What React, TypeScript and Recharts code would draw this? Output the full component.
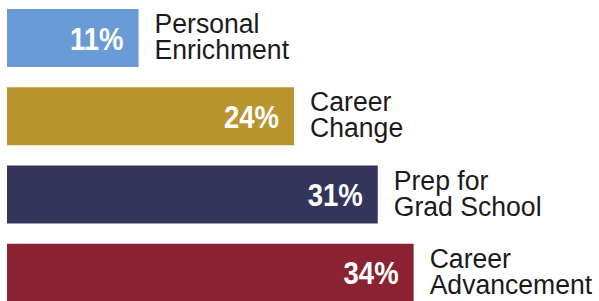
import React from "react";
import { BarChart, Bar, XAxis, YAxis, Cell, LabelList } from "recharts";

const categories = ["Personal\nEnrichment", "Career\nChange", "Prep for\nGrad School", "Career\nAdvancement"];
const percents = [11, 24, 31, 34];
const colors = ["#6b9bd6", "#b8952f", "#33355a", "#8a2232"];

const data = categories.map((c, i) => ({ name: c, value: percents[i] }));

const PctLabel = (props: any) => {
  const { x, y, width, height, value } = props;
  const tx = x + width - 15;
  const ty = y + height / 2 + 11.5;
  return (
    <text
      transform={`translate(${tx}, ${ty}) scale(0.86, 1)`}
      x={0}
      y={0}
      textAnchor="end"
      fill="#ffffff"
      fontFamily="'Liberation Sans', Arial, sans-serif"
      fontWeight="bold"
      fontSize={32}
    >
      {value}%
    </text>
  );
};

const CatLabel = (props: any) => {
  const { x, y, width, height, index } = props;
  const lines = categories[index].split("\n");
  const cy = y + height / 2;
  const tx = x + width + 16;
  return (
    <text
      transform={`translate(${tx}, ${cy}) scale(0.95, 1)`}
      x={0}
      y={-5}
      fill="#1a1a1a"
      fontFamily="'Liberation Sans', Arial, sans-serif"
      fontSize={28}
    >
      <tspan x={0} y={-5}>{lines[0]}</tspan>
      <tspan x={0} y={21}>{lines[1]}</tspan>
    </text>
  );
};

export default function App() {
  return (
    <div style={{ position: "absolute", left: 0, top: -1, width: 605, height: 313, background: "#fff" }}>
      <BarChart
        width={605}
        height={313}
        data={data}
        layout="vertical"
        margin={{ top: 0, right: 0, bottom: 0, left: 7 }}
      >
        <XAxis type="number" domain={[0, 50]} hide />
        <YAxis type="category" dataKey="name" hide />
        <Bar dataKey="value" barSize={58} isAnimationActive={false}>
          {data.map((d, i) => (
            <Cell key={i} fill={colors[i]} />
          ))}
          <LabelList dataKey="value" content={<PctLabel />} />
          <LabelList dataKey="name" content={<CatLabel />} />
        </Bar>
      </BarChart>
    </div>
  );
}
